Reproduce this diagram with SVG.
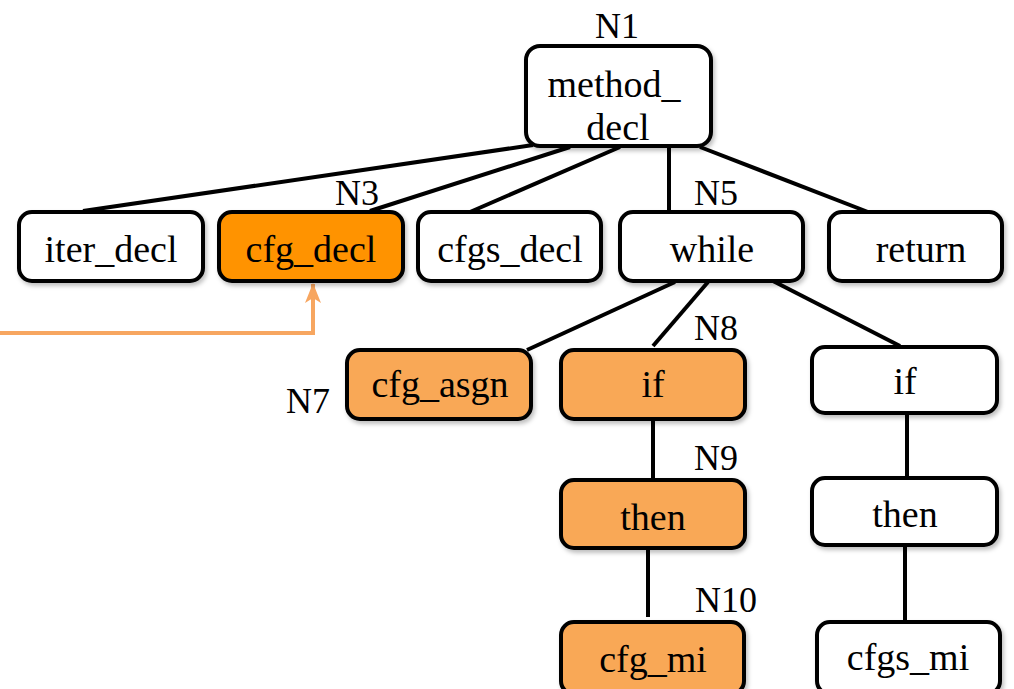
<svg xmlns="http://www.w3.org/2000/svg" width="1014" height="689" viewBox="0 0 1014 689">
<defs>
<filter id="sh" x="-10%" y="-10%" width="130%" height="140%">
<feDropShadow dx="2" dy="3" stdDeviation="2" flood-color="#000" flood-opacity="0.25"/>
</filter>
<marker id="arr" viewBox="0 0 20 16" refX="19" refY="8" markerWidth="20" markerHeight="16" markerUnits="userSpaceOnUse" orient="auto">
<path d="M0,0 L20,8 L0,16 L5,8 Z" fill="#F7A660"/>
</marker>
</defs>
<style>
.box{stroke:#000;stroke-width:4;filter:url(#sh)}
.w{fill:#fff}
.o{fill:#F9A857}
.od{fill:#FF9300}
text{font-family:"Liberation Serif","Times New Roman",serif;font-size:38px;fill:#000;text-anchor:middle}
.lbl{font-size:36px}
.c line{stroke:#000;stroke-width:4;stroke-linecap:butt}
</style>
<g id="connectors" class="c">
<line x1="533" y1="145" x2="83" y2="211"/>
<line x1="570" y1="147" x2="370" y2="211"/>
<line x1="620" y1="147" x2="470" y2="212"/>
<line x1="669" y1="147" x2="669" y2="212"/>
<line x1="700" y1="147" x2="868" y2="212"/>
<line x1="675" y1="282" x2="527" y2="350"/>
<line x1="708" y1="282" x2="653" y2="346"/>
<line x1="773" y1="281" x2="900" y2="346"/>
<line x1="653" y1="419" x2="653" y2="480"/>
<line x1="648" y1="548" x2="648" y2="617"/>
<line x1="907" y1="413" x2="907" y2="478"/>
<line x1="905" y1="546" x2="905" y2="622"/>
<polyline points="0,333 313,333 313,284" fill="none" stroke="#F7A660" stroke-width="4" marker-end="url(#arr)"/>
</g>
<g id="N1">
<rect class="box w" x="526" y="46" width="185" height="100" rx="14"/>
<text x="614" y="97">method_</text>
<text x="618" y="140">decl</text>
<text class="lbl" x="617" y="38">N1</text>
</g>
<g id="iter_decl">
<rect class="box w" x="19" y="212" width="184" height="69" rx="13"/>
<text x="111" y="262">iter_decl</text>
</g>
<g id="N3">
<rect class="box od" x="219" y="212" width="184" height="69" rx="13"/>
<text x="311" y="262">cfg_decl</text>
<text class="lbl" x="357" y="205">N3</text>
</g>
<g id="cfgs_decl">
<rect class="box w" x="418" y="212" width="183" height="69" rx="13"/>
<text x="510" y="262">cfgs_decl</text>
</g>
<g id="N5">
<rect class="box w" x="620" y="212" width="183" height="69" rx="13"/>
<text x="712" y="262">while</text>
<text class="lbl" x="716" y="205">N5</text>
</g>
<g id="return">
<rect class="box w" x="829" y="212" width="173" height="69" rx="13"/>
<text x="921" y="262">return</text>
</g>
<g id="N7">
<rect class="box o" x="347" y="350" width="184" height="69" rx="13"/>
<text x="440" y="397">cfg_asgn</text>
<text class="lbl" x="308" y="413">N7</text>
</g>
<g id="N8">
<rect class="box o" x="561" y="350" width="184" height="69" rx="13"/>
<text x="653" y="397">if</text>
<text class="lbl" x="716" y="340">N8</text>
</g>
<g id="if2">
<rect class="box w" x="812" y="347" width="185" height="66" rx="13"/>
<text x="905" y="394">if</text>
</g>
<g id="N9">
<rect class="box o" x="561" y="480" width="184" height="68" rx="13"/>
<text x="653" y="530">then</text>
<text class="lbl" x="716" y="470">N9</text>
</g>
<g id="then2">
<rect class="box w" x="812" y="478" width="185" height="67" rx="13"/>
<text x="905" y="527">then</text>
</g>
<g id="N10">
<rect class="box o" x="561" y="622" width="183" height="72" rx="13"/>
<text x="653" y="672">cfg_mi</text>
<text class="lbl" x="726" y="612">N10</text>
</g>
<g id="cfgs_mi">
<rect class="box w" x="817" y="622" width="183" height="72" rx="13"/>
<text x="908" y="670">cfgs_mi</text>
</g>
</svg>
